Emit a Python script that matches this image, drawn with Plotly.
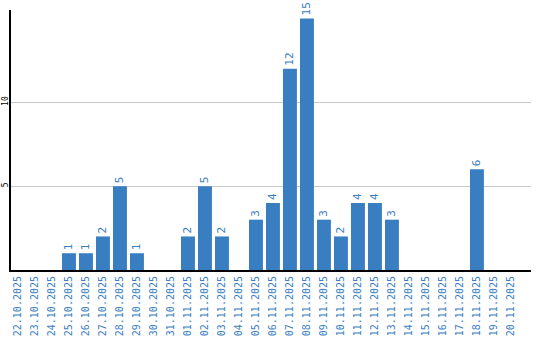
import plotly.graph_objects as go

dates = ["22.10.2025", "23.10.2025", "24.10.2025", "25.10.2025", "26.10.2025",
         "27.10.2025", "28.10.2025", "29.10.2025", "30.10.2025", "31.10.2025",
         "01.11.2025", "02.11.2025", "03.11.2025", "04.11.2025", "05.11.2025",
         "06.11.2025", "07.11.2025", "08.11.2025", "09.11.2025", "10.11.2025",
         "11.11.2025", "12.11.2025", "13.11.2025", "14.11.2025", "15.11.2025",
         "16.11.2025", "17.11.2025", "18.11.2025", "19.11.2025", "20.11.2025"]
values = [0, 0, 0, 1, 1, 2, 5, 1, 0, 0,
          2, 5, 2, 0, 3, 4, 12, 15, 3, 2,
          4, 4, 3, 0, 0, 0, 0, 6, 0, 0]
y_ticks = [5, 10]

BLUE = "#3a7ec2"
labels = [str(v) if v else "" for v in values]

fig = go.Figure(go.Bar(
    x=dates, y=values, text=labels,
    textposition="outside", textangle=-90,
    textfont=dict(family="DejaVu Sans Mono", size=11, color=BLUE),
    marker=dict(color=BLUE, line=dict(width=0)),
    cliponaxis=False,
))

fig.update_layout(
    width=540, height=340,
    margin=dict(l=11, r=9, t=10, b=70),
    plot_bgcolor="white", paper_bgcolor="white",
    bargap=0.18, showlegend=False,
)
fig.update_xaxes(
    type="category", range=[-0.41, 30.18], automargin=False,
    tickangle=-90, tickfont=dict(family="DejaVu Sans Mono", size=10, color=BLUE),
    showline=True, linecolor="black", linewidth=2,
    showgrid=False, ticks="", ticklen=0,
)
fig.update_yaxes(
    range=[0, 15.5], tickvals=y_ticks, ticktext=[str(t) for t in y_ticks],
    automargin=False, ticklabelstandoff=-2,
    tickangle=-90, tickfont=dict(family="DejaVu Sans Mono", size=8, color="black"),
    showline=True, linecolor="black", linewidth=2,
    showgrid=True, gridcolor="#c8c8c8", gridwidth=1,
    zeroline=False, ticks="", ticklen=0,
)

fig.write_html("out.html")
